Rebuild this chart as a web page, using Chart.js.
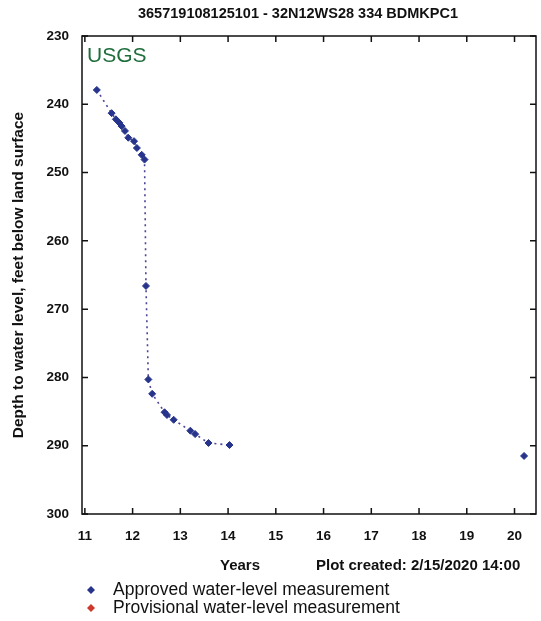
<!DOCTYPE html>
<html>
<head>
    <title>Groundwater level 365719108125101</title>
    <script src="https://cdn.jsdelivr.net/npm/chart.js"></script>
    <style>
        html, body { margin: 0; padding: 0; background: #fff; }
        #wrap { width: 541px; height: 621px; }
    </style>
</head>
<body>
    <div id="wrap">
        <canvas id="levelChart"></canvas>
    </div>

    <script>
    // Data
    const siteTitle = '365719108125101 - 32N12WS28 334 BDMKPC1';
    const approvedYears  = [11.25, 11.56, 11.65, 11.72, 11.77, 11.84, 11.91, 12.03, 12.09, 12.19, 12.25, 12.28, 12.33, 12.41, 12.67, 12.72, 12.86, 13.21, 13.31, 13.59, 14.03];
    const approvedDepths = [237.9, 241.3, 242.2, 242.7, 243.2, 243.9, 244.9, 245.4, 246.4, 247.4, 248.1, 266.6, 280.3, 282.4, 285.1, 285.5, 286.2, 287.8, 288.3, 289.6, 289.9];
    const laterYears  = [20.2];
    const laterDepths = [291.5];
    const yearTicks  = [11, 12, 13, 14, 15, 16, 17, 18, 19, 20];
    const depthTicks = [230, 240, 250, 260, 270, 280, 290, 300];

    const navy = '#27348b';
    const family = '"Liberation Sans", Arial, sans-serif';

    function toPoints(xs, ys) {
        return xs.map((x, i) => ({ x: x, y: ys[i] }));
    }

    // Frame, inward ticks and the loose texts around the plot
    const framePlugin = {
        id: 'frame',
        afterDraw(chart) {
            const ctx = chart.ctx;
            const a = chart.chartArea;
            const xs = chart.scales.x;
            const ys = chart.scales.y;
            ctx.save();
            ctx.strokeStyle = '#111';
            ctx.lineWidth = 1.5;
            ctx.strokeRect(a.left, a.top, a.right - a.left, a.bottom - a.top);

            ctx.beginPath();
            yearTicks.forEach(v => {
                const px = xs.getPixelForValue(v);
                ctx.moveTo(px, a.bottom); ctx.lineTo(px, a.bottom - 6);
                ctx.moveTo(px, a.top);    ctx.lineTo(px, a.top + 6);
            });
            depthTicks.forEach(v => {
                const py = ys.getPixelForValue(v);
                ctx.moveTo(a.left, py);  ctx.lineTo(a.left + 6, py);
                ctx.moveTo(a.right, py); ctx.lineTo(a.right - 6, py);
            });
            ctx.stroke();

            ctx.fillStyle = '#111';
            ctx.textBaseline = 'middle';
            ctx.textAlign = 'center';
            ctx.font = 'bold 14.5px ' + family;
            ctx.fillText(siteTitle, 298, 14);
            ctx.font = 'bold 15px ' + family;
            ctx.fillText('Years', 240, 566);
            ctx.textAlign = 'left';
            ctx.fillText('Plot created: 2/15/2020 14:00', 316, 566);

            ctx.fillStyle = '#1f6e3c';
            ctx.font = '21px ' + family;
            ctx.fillText('USGS', 87, 56);

            // legend
            const legend = [
                { color: navy, text: 'Approved water-level measurement', y: 590 },
                { color: '#d0382b', text: 'Provisional water-level measurement', y: 608 }
            ];
            ctx.font = '17.5px ' + family;
            legend.forEach(item => {
                ctx.fillStyle = item.color;
                ctx.beginPath();
                ctx.moveTo(91, item.y - 4); ctx.lineTo(95, item.y);
                ctx.lineTo(91, item.y + 4); ctx.lineTo(87, item.y);
                ctx.closePath();
                ctx.fill();
                ctx.fillStyle = '#111';
                ctx.fillText(item.text, 113, item.y);
            });
            ctx.restore();
        }
    };

    new Chart(document.getElementById('levelChart'), {
        type: 'scatter',
        data: {
            datasets: [{
                label: 'Approved',
                data: toPoints(approvedYears, approvedDepths),
                showLine: true,
                borderColor: '#4a4596',
                borderWidth: 1.6,
                borderDash: [2, 4],
                pointStyle: 'rectRot',
                pointRadius: 3.5,
                pointBackgroundColor: navy,
                pointBorderColor: navy,
                pointBorderWidth: 1
            }, {
                label: 'Approved (later)',
                data: toPoints(laterYears, laterDepths),
                showLine: false,
                pointStyle: 'rectRot',
                pointRadius: 3.5,
                pointBackgroundColor: navy,
                pointBorderColor: navy,
                pointBorderWidth: 1
            }]
        },
        options: {
            responsive: true,
            maintainAspectRatio: false,
            animation: false,
            layout: { padding: { left: 0, top: 36, right: 4, bottom: 0 } },
            plugins: {
                legend: { display: false },
                tooltip: { enabled: false }
            },
            scales: {
                x: {
                    type: 'linear',
                    min: 10.94,
                    max: 20.45,
                    afterFit(scale) { scale.height = 107; },
                    afterBuildTicks(scale) { scale.ticks = yearTicks.map(v => ({ value: v })); },
                    grid: { display: false, drawTicks: false },
                    border: { display: false },
                    ticks: {
                        padding: 14,
                        color: '#111',
                        font: { family: family, size: 13.5, weight: 'bold' },
                        maxRotation: 0
                    }
                },
                y: {
                    type: 'linear',
                    reverse: true,
                    min: 230,
                    max: 300,
                    afterFit(scale) { scale.width = 82; },
                    afterBuildTicks(scale) { scale.ticks = depthTicks.map(v => ({ value: v })); },
                    grid: { display: false, drawTicks: false },
                    border: { display: false },
                    ticks: {
                        padding: 13,
                        color: '#111',
                        font: { family: family, size: 13.5, weight: 'bold' }
                    },
                    title: {
                        display: true,
                        text: 'Depth to water level, feet below land surface',
                        color: '#111',
                        padding: { top: 9, bottom: 0 },
                        font: { family: family, size: 15.5, weight: 'bold' }
                    }
                }
            }
        },
        plugins: [framePlugin]
    });
    </script>
</body>
</html>
